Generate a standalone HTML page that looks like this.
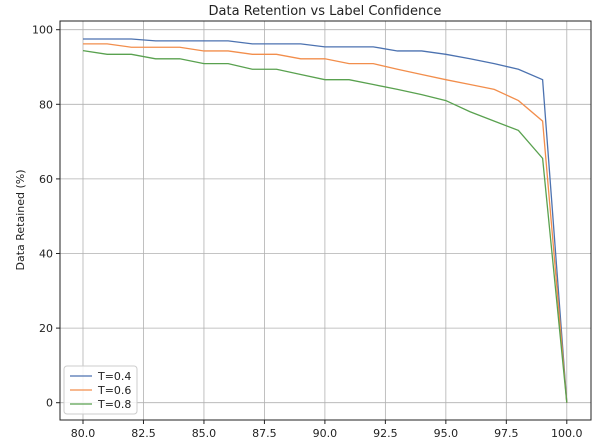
<!DOCTYPE html><html><head><style>body{margin:0;background:#fff}svg{display:block;font-family:"DejaVu Sans","Liberation Sans",sans-serif}</style></head><body>
<svg id="s" width="600" height="439" xmlns="http://www.w3.org/2000/svg">
<rect width="600" height="439" fill="#fff"/>
<g id="grid" stroke="#b0b0b0" stroke-width="0.8"></g>
<g id="lines" fill="none" stroke-width="1.3"></g>
<rect x="60" y="21" width="531" height="399" fill="none" stroke="#222" stroke-width="1"/>
<g id="ticks" font-size="11" fill="#222"></g>
<text x="325" y="15" font-size="13" text-anchor="middle" fill="#222">Data Retention vs Label Confidence</text>
<text transform="translate(24,220) rotate(-90)" font-size="11" text-anchor="middle" fill="#222">Data Retained (%)</text>
<g>
<rect x="64" y="366" width="73" height="48" rx="3" fill="#fff" fill-opacity="0.85" stroke="#ccc"/>
<line x1="70" y1="376" x2="92" y2="376" stroke="#4c72b0" stroke-width="1.3"/><text x="98" y="380" font-size="11" fill="#222">T=0.4</text>
<line x1="70" y1="390" x2="92" y2="390" stroke="#f28e4c" stroke-width="1.3"/><text x="98" y="394" font-size="11" fill="#222">T=0.6</text>
<line x1="70" y1="404" x2="92" y2="404" stroke="#59a14f" stroke-width="1.3"/><text x="98" y="408" font-size="11" fill="#222">T=0.8</text>
</g>
</svg>
<script>
const X=v=>83+(v-80)*24.19, Y=v=>402.7-v*3.73, ns="http://www.w3.org/2000/svg";
const g=document.getElementById('grid'),t=document.getElementById('ticks'),l=document.getElementById('lines');
function el(p,n,a,txt){const e=document.createElementNS(ns,n);for(const k in a)e.setAttribute(k,a[k]);if(txt!=null)e.textContent=String(txt);p.appendChild(e);}
for(let v=80;v<=100;v+=2.5){const x=X(v);el(g,'line',{x1:x,x2:x,y1:21,y2:420});el(t,'line',{x1:x,x2:x,y1:420,y2:424,stroke:'#222'});el(t,'text',{x:x,y:437,'text-anchor':'middle'},v.toFixed(1));}
for(let v=0;v<=100;v+=20){const y=Y(v);el(g,'line',{x1:60,x2:591,y1:y,y2:y});el(t,'line',{x1:56,x2:60,y1:y,y2:y,stroke:'#222'});el(t,'text',{x:53,y:y+4,'text-anchor':'end'},v);}
const d={"#4c72b0":[97.5,97.5,97.5,97,97,97,97,96.2,96.2,96.2,95.4,95.4,95.4,94.3,94.3,93.4,92.2,90.9,89.4,86.6,0],
"#f28e4c":[96.2,96.2,95.3,95.3,95.3,94.3,94.3,93.4,93.4,92.2,92.2,90.9,90.9,89.4,88,86.6,85.3,84,81,75.5,0],
"#59a14f":[94.4,93.4,93.4,92.2,92.2,90.9,90.9,89.4,89.4,88,86.6,86.6,85.3,84,82.6,81,78,75.5,73,65.5,0]};
for(const c in d){el(l,'polyline',{stroke:c,points:d[c].map((v,i)=>X(80+i)+','+Y(v)).join(' ')});}
</script></body></html>
